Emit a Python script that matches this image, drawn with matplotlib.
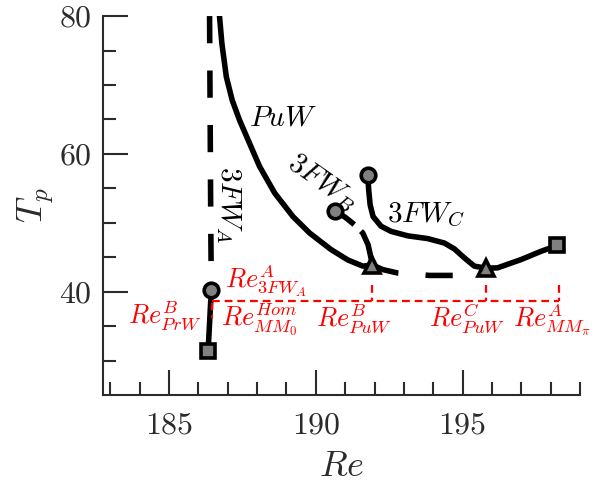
import matplotlib
matplotlib.use('Agg')
import matplotlib.pyplot as plt
import numpy as np

plt.rcParams['mathtext.fontset'] = 'cm'
plt.rcParams['font.family'] = 'serif'
plt.rcParams['font.serif'] = ['cmr10', 'DejaVu Serif']
plt.rcParams['axes.formatter.use_mathtext'] = True

# --- data ---
# PuW branch, upper part (solid) down to point B
puw_re = [186.71, 186.72, 186.80, 186.95, 187.15, 187.40, 187.74, 188.08, 188.60,
          189.22, 189.79, 190.52, 191.09, 191.60, 191.93]
puw_tp = [80.5, 79.9, 76.0, 71.2, 67.8, 64.9, 61.55, 58.2, 54.3,
          50.9, 48.5, 46.1, 44.6, 43.7, 43.85]
# PuW between B and C (dashed)
puw_mid_re = [191.93, 192.28, 192.79, 193.87, 194.72, 195.30, 195.80]
puw_mid_tp = [43.85, 43.2, 42.7, 42.35, 42.35, 42.7, 43.4]
# PuW right of C (solid) to the square
puw_end_re = [195.80, 196.19, 196.99, 197.67, 198.23]
puw_end_tp = [43.4, 43.45, 44.65, 45.85, 46.7]

# 3FW_A : dashed vertical branch + solid end piece
fwa_re = [186.38, 186.40, 186.42, 186.44]
fwa_tp = [80.0, 65.0, 50.0, 40.3]
fwa_end_re = [186.44, 186.33]
fwa_end_tp = [40.3, 31.35]

# 3FW_B (dashed) from circle to B
fwb_re = [190.64, 191.00, 191.35, 191.60, 191.78, 191.90, 191.93]
fwb_tp = [51.7, 50.8, 49.6, 48.5, 46.8, 44.5, 43.85]

# 3FW_C (solid) from circle to C
fwc_re = [191.77, 191.80, 191.85, 191.95, 192.22, 192.56, 193.13, 193.81,
          194.38, 194.72, 195.06, 195.40, 195.80]
fwc_tp = [57.0, 54.8, 52.6, 50.9, 49.5, 48.75, 48.1, 47.7,
          47.05, 46.2, 44.9, 43.7, 43.4]

# critical Reynolds numbers (red markers)
re_crit = [186.45, 191.93, 195.80, 198.27]
tp_crit = 38.6
tp_tick_top = 41.0

circ_re = [186.44, 190.64, 191.77]
circ_tp = [40.3, 51.7, 57.0]
tri_re = [191.93, 195.80]
tri_tp = [43.85, 43.4]
sq_re = [186.33, 198.23]
sq_tp = [31.35, 46.7]

xticks = [185, 190, 195]
yticks = [40, 60, 80]

fig = plt.figure(figsize=(6.11, 4.87), dpi=100)
ax = fig.add_axes([0.1686, 0.189, 0.7807, 0.778])

lw = 4
dash = (0, (4.9, 4.9))
ax.plot(puw_re, puw_tp, color='k', lw=lw, solid_capstyle='butt', solid_joinstyle='round')
ax.plot(puw_mid_re, puw_mid_tp, color='k', lw=lw, linestyle=dash, dash_capstyle='butt')
ax.plot(puw_end_re, puw_end_tp, color='k', lw=lw, solid_joinstyle='round')
ax.plot(fwa_re, fwa_tp, color='k', lw=lw, linestyle=dash, dash_capstyle='butt')
ax.plot(fwa_end_re, fwa_end_tp, color='k', lw=lw)
ax.plot(fwb_re, fwb_tp, color='k', lw=lw, linestyle=(0, (4.3, 1.7, 12, 1)), dash_capstyle='butt')
ax.plot(fwc_re, fwc_tp, color='k', lw=lw, solid_joinstyle='round')

# red dashed construction lines
red_ls = (0, (3.5, 2.2))
ax.plot([re_crit[0], re_crit[-1]], [tp_crit, tp_crit], color='red', lw=1.6, linestyle=red_ls)
ax.plot([re_crit[0], re_crit[0]], [40.3, 36.2], color='red', lw=1.6, linestyle=red_ls)
for r in re_crit[1:]:
    ax.plot([r, r], [tp_tick_top, tp_crit], color='red', lw=1.6, linestyle=red_ls)

mk = dict(markerfacecolor='0.5', markeredgecolor='k', markeredgewidth=2.6, linestyle='none', zorder=5)
ax.plot(circ_re, circ_tp, marker='o', markersize=10.5, **mk)
ax.plot(tri_re, tri_tp, marker='^', markersize=12, **mk)
ax.plot(sq_re, sq_tp, marker='s', markersize=9.5, **mk)

# branch labels
fs_lab = 21
ax.text(188.87, 65.2, r'$PuW$', fontsize=fs_lab, ha='center', va='center')
ax.text(190.24, 55.8, r'$3FW_B$', fontsize=fs_lab, ha='center', va='center', rotation=-35)
ax.text(187.04, 52.6, r'$3FW_A$', fontsize=fs_lab, ha='center', va='center', rotation=-90)
ax.text(193.77, 51.2, r'$3FW_C$', fontsize=fs_lab, ha='center', va='center')

fs_red = 19
ax.text(186.90, 40.72, r'$Re^A_{3FW_A}$', color='red', fontsize=fs_red, ha='left', va='baseline')
ax.text(186.11, 35.36, r'$Re^B_{PrW}$', color='red', fontsize=fs_red, ha='right', va='baseline')
ax.text(186.78, 35.2, r'$Re^{Hom}_{MM_0}$', color='red', fontsize=fs_red, ha='left', va='baseline')
ax.text(190.01, 34.97, r'$Re^B_{PuW}$', color='red', fontsize=fs_red, ha='left', va='baseline')
ax.text(193.87, 34.97, r'$Re^C_{PuW}$', color='red', fontsize=fs_red, ha='left', va='baseline')
ax.text(196.70, 34.97, r'$Re^A_{MM_\pi}$', color='red', fontsize=fs_red, ha='left', va='baseline')

ax.set_xlim(182.75, 199)
ax.set_ylim(25, 80)
ax.set_xticks(xticks)
ax.set_yticks(yticks)
ax.set_xticks(np.arange(183, 200), minor=True)
ax.set_yticks(np.arange(30, 81, 5), minor=True)
ax.set_xticklabels([f'${t}$' for t in xticks])
ax.set_yticklabels([f'${t}$' for t in yticks])

axc = '#2b2b2b'
for s in ['top', 'right']:
    ax.spines[s].set_visible(False)
for s in ['left', 'bottom']:
    ax.spines[s].set_linewidth(1.5)
    ax.spines[s].set_color(axc)
ax.tick_params(which='major', direction='in', length=18, width=1.5, color=axc,
               labelsize=23, labelcolor=axc, pad=8)
ax.tick_params(which='minor', direction='in', length=9.5, width=1.5, color=axc)
ax.tick_params(axis='x', which='major', pad=12)

ax.set_xlabel(r'$Re$', fontsize=26, color=axc, labelpad=9)
ax.set_ylabel(r'$T_p$', fontsize=26, color=axc, labelpad=2)

fig.savefig('out.png', dpi=100)
